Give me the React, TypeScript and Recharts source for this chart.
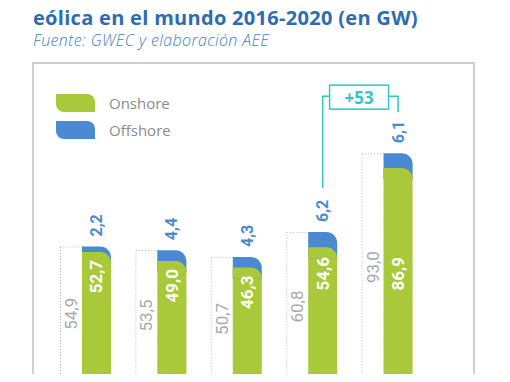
import React from 'react';
import { BarChart, Bar, XAxis, YAxis, LabelList } from 'recharts';

const YEARS = ['2016', '2017', '2018', '2019', '2020'];
const ONSHORE = [52.7, 49.0, 46.3, 54.6, 86.9];
const OFFSHORE = [2.2, 4.4, 4.3, 6.2, 6.1];
const TOTAL = [54.9, 53.5, 50.7, 60.8, 93.0];
const INCREASE_TEXT = '+53';

const W = 510;
const H = 382;
const MARGIN = { top: 136, right: 85, bottom: 1, left: 48 };
const Y_MAX = 100;

const GREEN = '#a9c93b';
const BLUE = '#4b8ad0';
const TEAL = '#35c6c0';
const GRAY = '#a9a9a9';
const NUM_FONT = "'Liberation Sans Narrow', 'Roboto', sans-serif";
const R = 11;

const data = YEARS.map((year, i) => ({
  year,
  total: TOTAL[i],
  onshore: ONSHORE[i],
  offshore: OFFSHORE[i],
}));

const fmt = (v: number) => Number(v).toFixed(1).replace('.', ',');

// pixel y of a value, same mapping as the chart's own y scale
const plotH = H - MARGIN.top - MARGIN.bottom;
const yPx = (v: number) => H - MARGIN.bottom - (v / Y_MAX) * plotH;
const bracketY = yPx(Math.max(...TOTAL)) - 57;

const topRounded = (x: number, y: number, w: number, h: number, r: number) =>
  `M${x},${y} L${x + w - r},${y} A${r},${r} 0 0 1 ${x + w},${y + r} L${x + w},${y + h} L${x},${y + h} Z`;

const DottedBar = (props: any) => {
  const { x, y, width, height } = props;
  return (
    <rect x={x + 0.5} y={y + 0.5} width={width} height={height} fill="none"
      stroke="#b5b5b5" strokeWidth={1} strokeDasharray="1 2" />
  );
};

const OffshoreBar = (props: any) => {
  const { x, y, width, height } = props;
  return (
    <g>
      <path d={topRounded(x, y, width, height + R, R)} fill={BLUE} />
      <path d={topRounded(x, y + height, width, R, R)} fill={GREEN} />
    </g>
  );
};

const TotalLabel = (props: any) => {
  const { x, y, width, height, value } = props;
  const cx = x + width / 2;
  const cy = y + height / 2;
  return (
    <text x={cx} y={cy} transform={`rotate(-90, ${cx}, ${cy})`} textAnchor="middle"
      dominantBaseline="central" fill={GRAY} fontSize={17} fontFamily={NUM_FONT}>
      {fmt(value)}
    </text>
  );
};

const OnshoreLabel = (props: any) => {
  const { x, y, width, value } = props;
  const cx = x + width / 2;
  const ty = Math.max(y + 8, 257);
  return (
    <text x={cx} y={ty} transform={`rotate(-90, ${cx}, ${ty})`} textAnchor="end"
      dominantBaseline="central" fill="#fff" fontWeight="bold" fontSize={17} fontFamily={NUM_FONT}>
      {fmt(value)}
    </text>
  );
};

const OffshoreLabel = (props: any) => {
  const { x, y, width, value, index } = props;
  const cx = x + width / 2;
  const ty = y - 10;
  return (
    <g>
      <text x={cx} y={ty} transform={`rotate(-90, ${cx}, ${ty})`} textAnchor="start"
        dominantBaseline="central" fill={BLUE} fontWeight="bold" fontSize={16} fontFamily={NUM_FONT}>
        {fmt(value)}
      </text>
      {index === 3 && (
        <polyline points={`${cx},${y - 44} ${cx},${bracketY} ${cx + 7.5},${bracketY}`}
          fill="none" stroke={TEAL} strokeWidth={1.5} />
      )}
      {index === 4 && (
        <g>
          <polyline points={`${cx},${y - 41} ${cx},${bracketY} ${cx - 9.5},${bracketY}`}
            fill="none" stroke={TEAL} strokeWidth={1.5} />
          <rect x={cx - 68.5} y={bracketY - 11} width={59} height={24} fill="#fff"
            stroke={TEAL} strokeWidth={1.5} />
          <text x={cx - 39} y={bracketY + 1} textAnchor="middle" dominantBaseline="central"
            fill={TEAL} fontWeight="bold" fontSize={17} fontFamily="'Open Sans', sans-serif">
            {INCREASE_TEXT}
          </text>
        </g>
      )}
    </g>
  );
};

const leafPath = 'M0,0 L31,0 A8,8 0 0 1 39,8 L39,18 L8,18 A8,8 0 0 1 0,10 Z';

const LegendBox = () => (
  <div style={{ position: 'absolute', left: 56, top: 94 }}>
    {[{ name: 'Onshore', color: GREEN }, { name: 'Offshore', color: BLUE }].map((it) => (
      <div key={it.name} style={{ display: 'flex', alignItems: 'center', height: 18, marginBottom: 9 }}>
        <svg width={39} height={18} style={{ display: 'block' }}>
          <path d={leafPath} fill={it.color} />
        </svg>
        <span style={{ marginLeft: 14, color: '#8c8c8c', fontSize: 15, fontFamily: "'Open Sans', sans-serif" }}>
          {it.name}
        </span>
      </div>
    ))}
  </div>
);

export default function App() {
  return (
    <div style={{ position: 'relative', width: W, height: H, margin: -8, overflow: 'hidden', background: '#fff' }}>
      <svg width={W} height={70} style={{ position: 'absolute', left: 0, top: 0 }}>
        <text x={33} y={2} fill="#2d6cb4" fontSize={20} fontWeight="bold" fontFamily="'Open Sans', sans-serif"
          style={{ letterSpacing: 0.3 }}>
          Evolución del incremento de potencia
        </text>
        <text x={33} y={25} fill="#2d6cb4" fontSize={20} fontWeight="bold" fontFamily="'Open Sans', sans-serif"
          style={{ letterSpacing: 0.3 }}>
          eólica en el mundo 2016-2020 (en GW)
        </text>
        <text x={33} y={46} fill="#3d7fc4" fontSize={16} fontStyle="italic" fontWeight={300}
          fontFamily="'Open Sans', sans-serif" style={{ letterSpacing: 0.4 }}>
          Fuente: GWEC y elaboración AEE
        </text>
      </svg>
      <div style={{
        position: 'absolute', left: 32, top: 62, width: 443, height: 340, boxSizing: 'border-box',
        borderTop: '2px solid #cfcfcf', borderLeft: '2px solid #cfcfcf', borderRight: '2px solid #cfcfcf',
      }} />
      <LegendBox />
      <div style={{ position: 'absolute', left: 0, top: 0 }}>
        <BarChart width={W} height={H} data={data} margin={MARGIN} barGap={0}>
          <XAxis dataKey="year" hide />
          <YAxis domain={[0, Y_MAX]} hide />
          <Bar dataKey="total" stackId="t" barSize={22} shape={<DottedBar />} isAnimationActive={false}>
            <LabelList dataKey="total" content={<TotalLabel />} />
          </Bar>
          <Bar dataKey="onshore" stackId="s" barSize={29} fill={GREEN} radius={[0, R, 0, 0]} isAnimationActive={false}>
            <LabelList dataKey="onshore" content={<OnshoreLabel />} />
          </Bar>
          <Bar dataKey="offshore" stackId="s" barSize={29} shape={<OffshoreBar />} isAnimationActive={false}>
            <LabelList dataKey="offshore" content={<OffshoreLabel />} />
          </Bar>
        </BarChart>
      </div>
    </div>
  );
}
